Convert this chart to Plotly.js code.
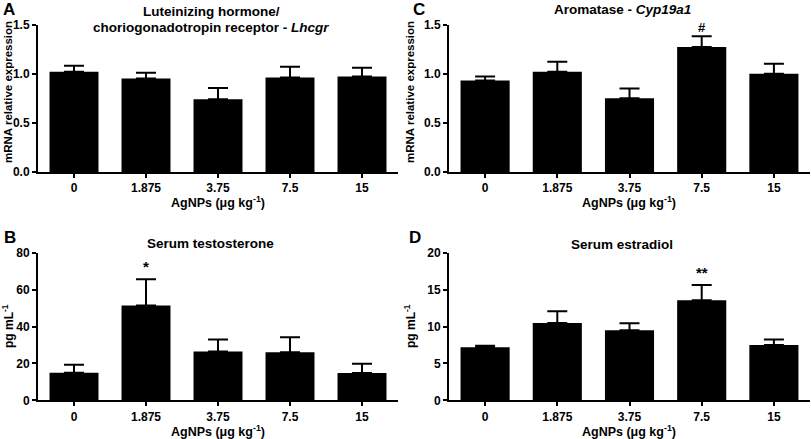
<!DOCTYPE html>
<html><head><meta charset="utf-8">
<script src="https://cdn.plot.ly/plotly-3.0.1.min.js"></script>
<style>html,body{margin:0;padding:0;background:#fff}#g{width:811px;height:439px}</style>
</head><body><div id="g"></div>
<script>
const categories = ['0', '1.875', '3.75', '7.5', '15'];
// Panel A: Lhcgr mRNA
const lhcgrMean = [1.02, 0.95, 0.74, 0.96, 0.97];
const lhcgrSem  = [0.06, 0.06, 0.115, 0.11, 0.09];
// Panel B: serum testosterone
const testoMean = [14.9, 51.5, 26.5, 26.1, 14.8];
const testoSem  = [4.4, 14.3, 6.5, 8.2, 5.1];
// Panel C: Cyp19a1 mRNA
const cypMean = [0.93, 1.02, 0.75, 1.27, 1.00];
const cypSem  = [0.04, 0.10, 0.10, 0.11, 0.10];
// Panel D: serum estradiol
const estrMean = [7.2, 10.5, 9.5, 13.6, 7.5];
const estrSem  = [0.2, 1.6, 0.95, 2.05, 0.75];
const zeros = [0, 0, 0, 0, 0];

const FONT = 'Liberation Sans, Arial, Helvetica, sans-serif';

function barTrace(y, sem, xa, ya) {
  return {
    type: 'bar', x: categories, y: y, xaxis: xa, yaxis: ya,
    width: 0.68,
    marker: {color: '#000', line: {width: 0}},
    error_y: {type: 'data', symmetric: false, array: sem, arrayminus: zeros,
              color: '#000', thickness: 2, width: 10},
    hoverinfo: 'none', showlegend: false
  };
}

const data = [
  barTrace(lhcgrMean, lhcgrSem, 'x', 'y'),
  barTrace(cypMean, cypSem, 'x2', 'y2'),
  barTrace(testoMean, testoSem, 'x3', 'y3'),
  barTrace(estrMean, estrSem, 'x4', 'y4')
];

const W = 811, H = 439;
const xdomL = [38 / W, 398 / W];
const xdomR = [449 / W, 810 / W];
const ydomT = [1 - 172 / H, 1 - 24.5 / H];
const ydomB = [1 - 400.3 / H, 1 - 253 / H];

function xAx(dom, anchor) {
  return {
    domain: dom, anchor: anchor, type: 'category', range: [-0.5, 4.5],
    showline: true, linecolor: '#000', linewidth: 2, mirror: false,
    ticks: 'outside', ticklen: 4, tickwidth: 2, tickcolor: '#000',
    showgrid: false, zeroline: false, fixedrange: true,
    tickfont: {family: FONT, size: 12, color: '#000', weight: 700}
  };
}
function yAx(dom, anchor, range, dtick, fmt) {
  return {
    domain: dom, anchor: anchor, range: range, dtick: dtick, tick0: 0,
    tickformat: fmt,
    showline: true, linecolor: '#000', linewidth: 2,
    ticks: 'outside', ticklen: 4, tickwidth: 2, tickcolor: '#000',
    showgrid: false, zeroline: false, fixedrange: true,
    tickfont: {family: FONT, size: 12, color: '#000', weight: 700}
  };
}

const tf = (s) => ({family: FONT, size: s, color: '#000', weight: 700});
function ann(text, x, y, size, extra) {
  return Object.assign({text: text, x: x / W, y: 1 - y / H, xref: 'paper', yref: 'paper',
    showarrow: false, font: tf(size), xanchor: 'center', yanchor: 'middle'}, extra || {});
}
const xTitle = 'AgNPs (μg kg<sup>-1</sup>)';

const annotations = [
  ann('A', 9, 10, 17),
  ann('C', 419, 10, 17),
  ann('B', 10, 237, 17),
  ann('D', 415, 237, 17),
  ann('Luteinizing hormone/', 211, 12, 13.5),
  ann('choriogonadotropin receptor - <i>Lhcgr</i>', 211, 27, 13.5),
  ann('Aromatase - <i>Cyp19a1</i>', 622, 10, 13.5),
  ann('Serum testosterone', 210, 243, 13.5),
  ann('Serum estradiol', 622, 244, 13.5),
  ann(xTitle, 218, 202, 12.5),
  ann(xTitle, 629, 202, 12.5),
  ann(xTitle, 218, 431, 12.5),
  ann(xTitle, 629, 431, 12.5),
  ann('mRNA relative expression', 8, 92, 11.5, {textangle: -90}),
  ann('mRNA relative expression', 410, 92, 11.5, {textangle: -90}),
  ann('pg mL<sup>-1</sup>', 8, 326, 12, {textangle: -90}),
  ann('pg mL<sup>-1</sup>', 410, 326, 12, {textangle: -90}),
  {text: '#', x: 3, y: 1.47, xref: 'x2', yref: 'y2', showarrow: false,
   font: tf(13), xanchor: 'center', yanchor: 'middle'},
  {text: '*', x: 1, y: 72.5, xref: 'x3', yref: 'y3', showarrow: false,
   font: tf(15), xanchor: 'center', yanchor: 'middle'},
  {text: '**', x: 3, y: 17.3, xref: 'x4', yref: 'y4', showarrow: false,
   font: tf(15), xanchor: 'center', yanchor: 'middle'}
];

const layout = {
  width: W, height: H,
  margin: {l: 0, r: 0, t: 0, b: 0},
  paper_bgcolor: '#fff', plot_bgcolor: '#fff',
  font: {family: FONT, color: '#000'},
  showlegend: false,
  xaxis: xAx(xdomL, 'y'),
  yaxis: yAx(ydomT, 'x', [0, 1.5], 0.5, '.1f'),
  xaxis2: xAx(xdomR, 'y2'),
  yaxis2: yAx(ydomT, 'x2', [0, 1.5], 0.5, '.1f'),
  xaxis3: xAx(xdomL, 'y3'),
  yaxis3: yAx(ydomB, 'x3', [0, 80], 20, 'd'),
  xaxis4: xAx(xdomR, 'y4'),
  yaxis4: yAx(ydomB, 'x4', [0, 20], 5, 'd'),
  annotations: annotations
};

Plotly.newPlot('g', data, layout, {staticPlot: true, displayModeBar: false});
</script>
</body></html>
